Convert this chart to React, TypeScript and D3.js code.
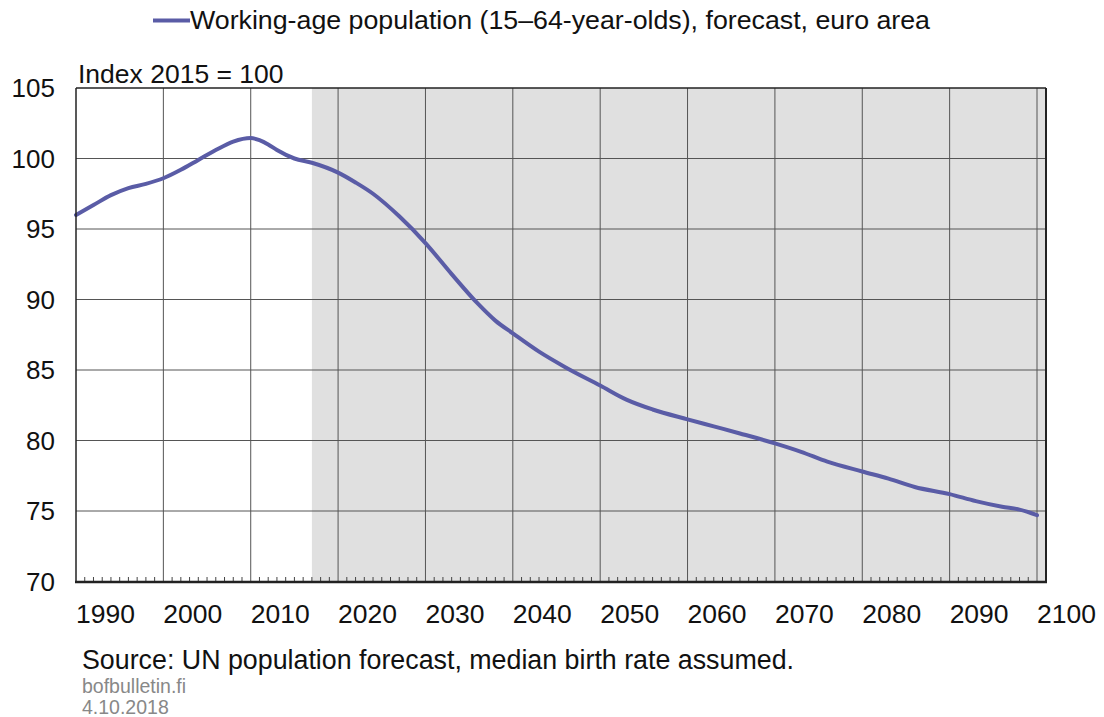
import React, { useRef, useEffect } from 'react'
import { select, scaleLinear, line, curveMonotoneX, range } from 'd3'

const years = [1990, 1992, 1994, 1996, 1998, 2000, 2002, 2004, 2006, 2008, 2010, 2011, 2012, 2013, 2015, 2017,
  2020, 2022, 2024, 2027, 2030, 2033, 2036, 2038, 2040, 2043, 2046, 2050, 2053, 2056, 2060, 2063, 2066,
  2070, 2073, 2076, 2080, 2083, 2086, 2090, 2093, 2096, 2098, 2100]
const values = [96.0, 96.7, 97.4, 97.9, 98.2, 98.6, 99.2, 99.9, 100.6, 101.2, 101.45, 101.3, 101.0, 100.6, 100.0, 99.7,
  99.0, 98.3, 97.5, 95.9, 94.0, 91.8, 89.7, 88.5, 87.6, 86.3, 85.2, 83.9, 82.9, 82.2, 81.5, 81.0, 80.5,
  79.8, 79.2, 78.5, 77.8, 77.3, 76.7, 76.2, 75.7, 75.3, 75.1, 74.7]
const decadeLabels = ['1990', '2000', '2010', '2020', '2030', '2040', '2050', '2060', '2070', '2080', '2090', '2100']
const yTickValues = [70, 75, 80, 85, 90, 95, 100, 105]
const forecastStart = 2017

const legendText = 'Working-age population (15–64-year-olds), forecast, euro area'
const unitText = 'Index 2015 = 100'
const sourceText = 'Source: UN population forecast, median birth rate assumed.'
const siteText = 'bofbulletin.fi'
const dateText = '4.10.2018'

const W = 1104
const H = 717
const left = 76, right = 1046, top = 88, bottom = 582
const font = 'Liberation Sans, Arial, sans-serif'
const lineColor = '#5a5ca6'
const gridColor = '#555'

export default function App() {
  const gRef = useRef<SVGGElement>(null)

  const x = scaleLinear().domain([1990, 2100]).range([left, 1037])
  const y = scaleLinear().domain([70, 105]).range([581.5, top])

  useEffect(() => {
    const g = select(gRef.current)
    const pts = years.map((yr, i) => [yr, values[i]] as [number, number])
    // forecast line
    const myLine = line<[number, number]>()
      .x(d => x(d[0]))
      .y(d => y(d[1]))
      .curve(curveMonotoneX)
    g.selectAll('.series')
      .data([pts])
      .join('path')
      .attr('class', 'series')
      .attr('d', myLine)
      .attr('fill', 'none')
      .attr('stroke', lineColor)
      .attr('stroke-width', 4)
      .attr('stroke-linejoin', 'round')
      .attr('stroke-linecap', 'round')
  }, [])

  const minorYears = range(1990, 2101).filter(v => v % 10 !== 0)

  return (
    <svg width={W} height={H} style={{ position: 'absolute', left: 0, top: 0, background: '#fff' }} fontFamily={font}>
      {/* legend */}
      <line x1={153} x2={190} y1={20.5} y2={20.5} stroke={lineColor} strokeWidth={4} />
      <text x={190} y={29} fontSize={25} textLength={740} lengthAdjust="spacingAndGlyphs" fill="#111">{legendText}</text>

      <text x={78} y={83} fontSize={26.5} fill="#111">{unitText}</text>

      {/* forecast shading */}
      <rect x={x(forecastStart)} y={top} width={right - x(forecastStart)} height={bottom - top} fill="#e0e0e0" />

      {/* grid */}
      {yTickValues.filter(v => v > 70 && v < 105).map(v => (
        <line key={'h' + v} x1={left} x2={right} y1={y(v)} y2={y(v)} stroke={gridColor} strokeWidth={1} />
      ))}
      {decadeLabels.slice(1).map(d => (
        <line key={'v' + d} x1={x(+d)} x2={x(+d)} y1={top} y2={bottom} stroke={gridColor} strokeWidth={1} />
      ))}
      {minorYears.map(v => (
        <line key={'m' + v} x1={x(v)} x2={x(v)} y1={bottom} y2={bottom - 5} stroke="#444" strokeWidth={1} />
      ))}

      <g ref={gRef} />

      {/* frame */}
      <line x1={left} x2={right} y1={top} y2={top} stroke="#222" strokeWidth={1.5} />
      <line x1={left} x2={left} y1={top} y2={bottom} stroke="#222" strokeWidth={1.5} />
      <line x1={right} x2={right} y1={top} y2={bottom + 1} stroke="#222" strokeWidth={2} />
      <line x1={left - 1} x2={right + 1} y1={bottom} y2={bottom} stroke="#222" strokeWidth={2.5} />

      {/* y labels */}
      {yTickValues.map(v => (
        <text key={'yl' + v} x={55} y={y(v)} dy="0.36em" textAnchor="end" fontSize={26} fill="#111">{v}</text>
      ))}
      {/* x labels */}
      {decadeLabels.map(d => (
        <text key={'xl' + d} x={x(+d)} y={623} fontSize={26.5} fill="#111">{d}</text>
      ))}

      <text x={82} y={669} fontSize={26.8} fill="#111">{sourceText}</text>
      <text x={82} y={693} fontSize={19.5} fill="#888">{siteText}</text>
      <text x={82} y={714} fontSize={19.5} fill="#888">{dateText}</text>
    </svg>
  )
}
